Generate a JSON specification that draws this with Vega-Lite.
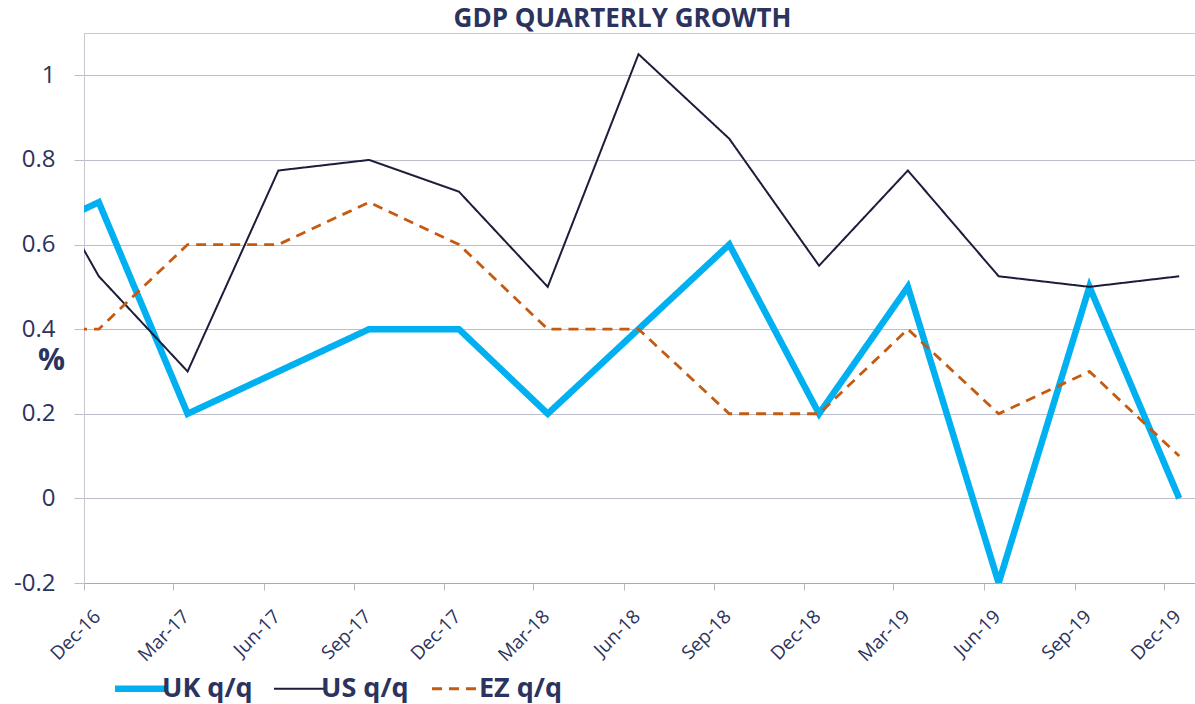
{
  "$schema": "https://vega.github.io/schema/vega-lite/v6.json",
  "width": 1111,
  "height": 550,
  "autosize": {"type": "none"},
  "padding": {"left": 84, "top": 33, "right": 0, "bottom": 121},
  "background": "white",
  "config": {
    "font": "Open Sans",
    "view": {"stroke": "#c8c8d2", "strokeWidth": 1}
  },
  "title": {
    "text": "GDP QUARTERLY GROWTH",
    "font": "Open Sans",
    "fontSize": 26,
    "fontWeight": "bold",
    "color": "#2b335e",
    "anchor": "middle",
    "dx": -17,
    "offset": 1
  },
  "data": {
    "values": [
      {"date": "2016-09-16T00:00:00", "series": "UK q/q", "value": 0.6},
      {"date": "2016-12-16T00:00:00", "series": "UK q/q", "value": 0.7},
      {"date": "2017-03-16T00:00:00", "series": "UK q/q", "value": 0.2},
      {"date": "2017-06-16T00:00:00", "series": "UK q/q", "value": 0.3},
      {"date": "2017-09-16T00:00:00", "series": "UK q/q", "value": 0.4},
      {"date": "2017-12-16T00:00:00", "series": "UK q/q", "value": 0.4},
      {"date": "2018-03-16T00:00:00", "series": "UK q/q", "value": 0.2},
      {"date": "2018-06-16T00:00:00", "series": "UK q/q", "value": 0.4},
      {"date": "2018-09-16T00:00:00", "series": "UK q/q", "value": 0.6},
      {"date": "2018-12-16T00:00:00", "series": "UK q/q", "value": 0.2},
      {"date": "2019-03-16T00:00:00", "series": "UK q/q", "value": 0.5},
      {"date": "2019-06-16T00:00:00", "series": "UK q/q", "value": -0.2},
      {"date": "2019-09-16T00:00:00", "series": "UK q/q", "value": 0.5},
      {"date": "2019-12-16T00:00:00", "series": "UK q/q", "value": 0.0},
      {"date": "2016-09-16T00:00:00", "series": "US q/q", "value": 0.9},
      {"date": "2016-12-16T00:00:00", "series": "US q/q", "value": 0.525},
      {"date": "2017-03-16T00:00:00", "series": "US q/q", "value": 0.3},
      {"date": "2017-06-16T00:00:00", "series": "US q/q", "value": 0.775},
      {"date": "2017-09-16T00:00:00", "series": "US q/q", "value": 0.8},
      {"date": "2017-12-16T00:00:00", "series": "US q/q", "value": 0.725},
      {"date": "2018-03-16T00:00:00", "series": "US q/q", "value": 0.5},
      {"date": "2018-06-16T00:00:00", "series": "US q/q", "value": 1.05},
      {"date": "2018-09-16T00:00:00", "series": "US q/q", "value": 0.85},
      {"date": "2018-12-16T00:00:00", "series": "US q/q", "value": 0.55},
      {"date": "2019-03-16T00:00:00", "series": "US q/q", "value": 0.775},
      {"date": "2019-06-16T00:00:00", "series": "US q/q", "value": 0.525},
      {"date": "2019-09-16T00:00:00", "series": "US q/q", "value": 0.5},
      {"date": "2019-12-16T00:00:00", "series": "US q/q", "value": 0.525},
      {"date": "2016-09-16T00:00:00", "series": "EZ q/q", "value": 0.4},
      {"date": "2016-12-16T00:00:00", "series": "EZ q/q", "value": 0.4},
      {"date": "2017-03-16T00:00:00", "series": "EZ q/q", "value": 0.6},
      {"date": "2017-06-16T00:00:00", "series": "EZ q/q", "value": 0.6},
      {"date": "2017-09-16T00:00:00", "series": "EZ q/q", "value": 0.7},
      {"date": "2017-12-16T00:00:00", "series": "EZ q/q", "value": 0.6},
      {"date": "2018-03-16T00:00:00", "series": "EZ q/q", "value": 0.4},
      {"date": "2018-06-16T00:00:00", "series": "EZ q/q", "value": 0.4},
      {"date": "2018-09-16T00:00:00", "series": "EZ q/q", "value": 0.2},
      {"date": "2018-12-16T00:00:00", "series": "EZ q/q", "value": 0.2},
      {"date": "2019-03-16T00:00:00", "series": "EZ q/q", "value": 0.4},
      {"date": "2019-06-16T00:00:00", "series": "EZ q/q", "value": 0.2},
      {"date": "2019-09-16T00:00:00", "series": "EZ q/q", "value": 0.3},
      {"date": "2019-12-16T00:00:00", "series": "EZ q/q", "value": 0.1}
    ]
  },
  "mark": {"type": "line", "clip": true, "strokeJoin": "miter"},
  "encoding": {
    "x": {
      "field": "date",
      "type": "temporal",
      "scale": {
        "domain": [
          {"year": 2016, "month": 12, "date": 1},
          {"year": 2020, "month": 1, "date": 1}
        ]
      },
      "axis": {
        "title": null,
        "grid": false,
        "format": "%b-%y",
        "values": [
          {"year": 2016, "month": 12, "date": 1},
          {"year": 2017, "month": 3, "date": 1},
          {"year": 2017, "month": 6, "date": 1},
          {"year": 2017, "month": 9, "date": 1},
          {"year": 2017, "month": 12, "date": 1},
          {"year": 2018, "month": 3, "date": 1},
          {"year": 2018, "month": 6, "date": 1},
          {"year": 2018, "month": 9, "date": 1},
          {"year": 2018, "month": 12, "date": 1},
          {"year": 2019, "month": 3, "date": 1},
          {"year": 2019, "month": 6, "date": 1},
          {"year": 2019, "month": 9, "date": 1},
          {"year": 2019, "month": 12, "date": 1}
        ],
        "labelAngle": -45,
        "labelAlign": "right",
        "labelBaseline": "middle",
        "labelOffset": 13,
        "labelPadding": 23,
        "labelFont": "Open Sans",
        "labelFontSize": 19,
        "labelColor": "#2b335e",
        "labelOverlap": false,
        "domainColor": "#a8a8b8",
        "tickColor": "#b8b8c4",
        "tickSize": 7
      }
    },
    "y": {
      "field": "value",
      "type": "quantitative",
      "scale": {"domain": [-0.2, 1.1], "nice": false, "zero": false},
      "axis": {
        "values": [-0.2, 0, 0.2, 0.4, 0.6, 0.8, 1],
        "format": ".1~f",
        "labelExpr": "replace(datum.label, '\u2212', '-')",
        "labelFont": "Open Sans",
        "labelFontSize": 24,
        "labelColor": "#2b335e",
        "labelPadding": 19,
        "tickSize": 10,
        "tickColor": "#bdbdca",
        "gridColor": "#bdbdca",
        "domainColor": "#c8c8d2",
        "title": "%",
        "titleAngle": 0,
        "titleFont": "Open Sans",
        "titleFontSize": 30,
        "titleFontWeight": "bold",
        "titleColor": "#2b335e",
        "titleAlign": "center",
        "titleBaseline": "middle",
        "titleX": -33,
        "titleY": 327
      }
    },
    "color": {
      "field": "series",
      "type": "nominal",
      "scale": {
        "domain": ["UK q/q", "US q/q", "EZ q/q"],
        "range": ["#00b0f0", "#1b1d3a", "#c55a11"]
      },
      "legend": {
        "title": null,
        "orient": "none",
        "direction": "horizontal",
        "legendX": 43,
        "legendY": 642,
        "symbolType": "stroke",
        "symbolSize": 2600,
        "labelFont": "Open Sans",
        "labelFontSize": 27,
        "labelFontWeight": "bold",
        "labelColor": "#2b335e",
        "labelOffset": 8,
        "columnPadding": 17,
        "encode": {
          "symbols": {
            "update": {
              "strokeWidth": {"signal": "datum.value === 'UK q/q' ? 6.5 : (datum.value === 'EZ q/q' ? 3 : 2)"}
            }
          }
        }
      }
    },
    "strokeDash": {
      "field": "series",
      "type": "nominal",
      "scale": {
        "domain": ["UK q/q", "US q/q", "EZ q/q"],
        "range": [[1, 0], [1, 0], [10, 7]]
      }
    },
    "strokeWidth": {
      "condition": [
        {"test": "datum.series === 'UK q/q'", "value": 6.5},
        {"test": "datum.series === 'EZ q/q'", "value": 2.8}
      ],
      "value": 2
    }
  }
}
